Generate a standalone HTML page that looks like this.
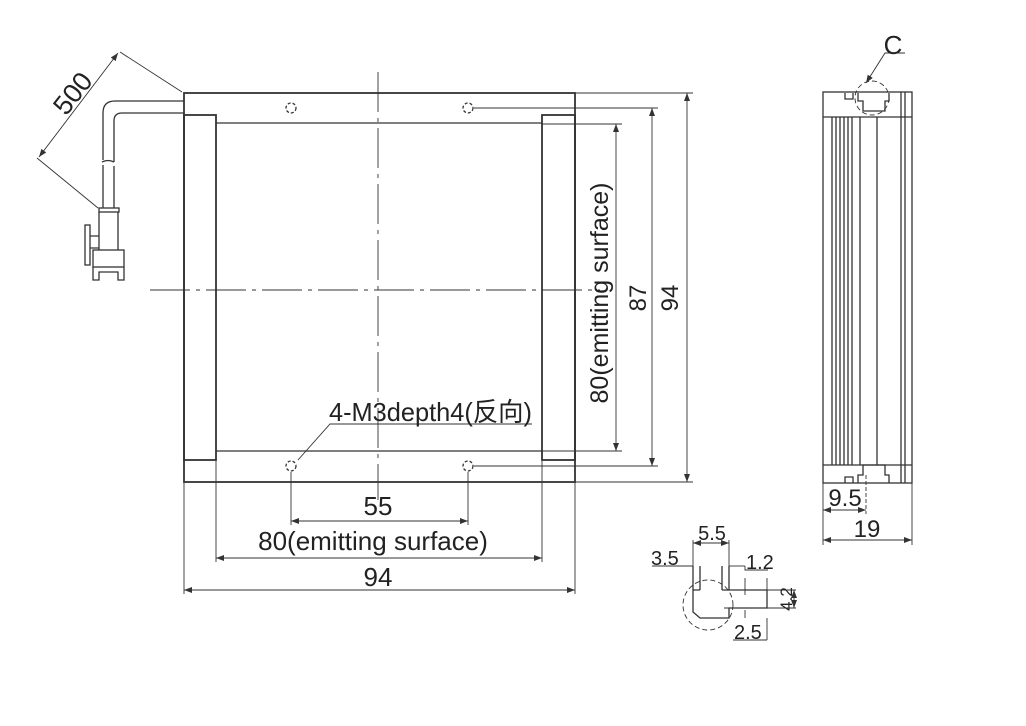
<!DOCTYPE html>
<html><head><meta charset="utf-8"><style>body{margin:0;background:#fff}svg{display:block}</style></head>
<body>
<svg width="1026" height="726" viewBox="0 0 1026 726" xmlns="http://www.w3.org/2000/svg" font-family="Liberation Sans, Noto Sans CJK SC, sans-serif" fill="none" stroke="#333">
<defs><marker id="a" markerWidth="8" markerHeight="6" refX="8" refY="3" orient="auto-start-reverse" markerUnits="userSpaceOnUse"><path d="M0,0 L8,3 L0,6z" fill="#333" stroke="none"/></marker></defs>
<g stroke-width="1.8">
<rect x="184" y="93" width="391" height="389"/>
<rect x="184" y="115" width="32" height="345"/>
<rect x="542" y="115" width="33" height="345"/>
</g>
<g stroke-width="1.3">
<line x1="216" y1="123" x2="542" y2="123"/>
<line x1="216" y1="451" x2="542" y2="451"/>
</g>
<g stroke-width="0.9">
<line x1="378" y1="72" x2="378" y2="500" stroke-dasharray="40,6,4,6"/>
<line x1="150" y1="290" x2="600" y2="290" stroke-dasharray="40,6,4,6"/>
<g stroke-dasharray="3,2" stroke-width="1.3"><circle cx="291" cy="108" r="5"/><circle cx="468" cy="108" r="5"/><circle cx="291" cy="466" r="5"/><circle cx="468" cy="466" r="5"/></g>
<line x1="291" y1="472" x2="291" y2="525"/><line x1="468" y1="472" x2="468" y2="525"/>
<line x1="291" y1="521" x2="468" y2="521" marker-start="url(#a)" marker-end="url(#a)"/>
<line x1="216" y1="460" x2="216" y2="562"/><line x1="542" y1="460" x2="542" y2="562"/>
<line x1="216" y1="558" x2="542" y2="558" marker-start="url(#a)" marker-end="url(#a)"/>
<line x1="184" y1="482" x2="184" y2="594"/><line x1="575" y1="482" x2="575" y2="594"/>
<line x1="184" y1="590" x2="575" y2="590" marker-start="url(#a)" marker-end="url(#a)"/>
<line x1="542" y1="124" x2="622" y2="124"/><line x1="542" y1="451" x2="622" y2="451"/>
<line x1="616" y1="124" x2="616" y2="451" marker-start="url(#a)" marker-end="url(#a)"/>
<line x1="474" y1="108" x2="658" y2="108"/><line x1="474" y1="466" x2="658" y2="466"/>
<line x1="652" y1="108" x2="652" y2="466" marker-start="url(#a)" marker-end="url(#a)"/>
<line x1="575" y1="93" x2="693" y2="93"/><line x1="575" y1="482" x2="693" y2="482"/>
<line x1="687" y1="93" x2="687" y2="482" marker-start="url(#a)" marker-end="url(#a)"/>
<polyline points="532,424 330,424 298,460"/>
<line x1="182" y1="92" x2="120" y2="52"/><line x1="37" y1="158" x2="98" y2="208"/>
<line x1="118" y1="53" x2="39" y2="157" marker-start="url(#a)" marker-end="url(#a)"/>
</g>
<g stroke-width="1.3">
<path d="M184,101 L115,101 Q103,101 103,113 L103,160 M184,113 L122,113 Q114,113 114,121 L114,162"/>
<path d="M103,165 L103,208 M114,166 L114,208 M102,162 q6,-3 12,0"/>
<rect x="99" y="208" width="20" height="4"/><path d="M99,212 L99,250 M118,212 L118,250"/>
<rect x="93" y="250" width="31" height="17"/>
<path d="M93,267 L93,280 L99,280 L99,272 L118,272 L118,280 L124,280 L124,267"/>
<rect x="85" y="225" width="5" height="40"/><path d="M90,236 L99,236 M90,248 L99,248"/>
<rect x="823" y="92" width="89" height="391"/>
<path d="M823,117 L912,117 M823,465 L912,465"/>
<path d="M832,117V465 M836,117V465 M840,117V465 M844,117V465 M848,117V465 M852,117V465 M860,117V465 M877,117V465 M901,92V483 M905,92V483"/>
<path d="M845,93 v6 h8 v-6 M858,93 v8 h5 v10 h22 v-10 h4 v-8"/>
<path d="M845,483 v-6 h8 v6 M858,483 v-8 h5 v-10 h22 v10 h4 v8"/>
</g>
<g stroke-width="0.9">
<circle cx="872" cy="98" r="17" stroke-dasharray="5,3"/>
<polyline points="905,53 885,53 866,83" marker-end="url(#a)"/>
<line x1="823" y1="483" x2="823" y2="545"/><line x1="866" y1="475" x2="866" y2="514" stroke-dasharray="4,2"/><line x1="912" y1="483" x2="912" y2="545"/>
<line x1="823" y1="510" x2="866" y2="510" marker-start="url(#a)" marker-end="url(#a)"/>
<line x1="823" y1="540" x2="912" y2="540" marker-start="url(#a)" marker-end="url(#a)"/>
<circle cx="708" cy="605" r="25" stroke-dasharray="5,3"/>
<line x1="693" y1="540" x2="693" y2="570"/><line x1="729" y1="540" x2="729" y2="570"/>
<line x1="693" y1="543" x2="729" y2="543" marker-start="url(#a)" marker-end="url(#a)"/>
<line x1="652" y1="566" x2="693" y2="566"/><line x1="729" y1="566" x2="745" y2="566"/>
<polyline points="745,566 745,570 768,570"/>
<line x1="745" y1="578" x2="745" y2="595"/>
<line x1="767" y1="578" x2="767" y2="590"/>
<line x1="724" y1="590" x2="796" y2="590"/><line x1="724" y1="608" x2="796" y2="608"/>
<line x1="794" y1="590" x2="794" y2="608" marker-start="url(#a)" marker-end="url(#a)"/>
<line x1="745" y1="610" x2="745" y2="618"/><line x1="767" y1="618" x2="767" y2="640"/>
<line x1="733" y1="640" x2="767" y2="640"/>
</g>
<g stroke-width="1.3">
<path d="M693,566 V612 L700,618 H729 V608 H767 V590 H729 V566 M700,566 V590 M722,566 V590"/>
<path d="M693,590 h7 M722,590 h7"/>
</g>
<g fill="#222" stroke="none" font-size="26">
<text x="378" y="515" text-anchor="middle">55</text>
<text x="373" y="550" text-anchor="middle">80(emitting surface)</text>
<text x="378" y="586" text-anchor="middle">94</text>
<text x="329" y="421" textLength="203" lengthAdjust="spacingAndGlyphs">4-M3depth4(反向)</text>
<text transform="translate(608,293) rotate(-90)" text-anchor="middle" font-size="25">80(emitting surface)</text>
<text transform="translate(646,298) rotate(-90)" text-anchor="middle" font-size="24">87</text>
<text transform="translate(678,298) rotate(-90)" text-anchor="middle" font-size="24">94</text>
<text transform="translate(80,99) rotate(-52)" text-anchor="middle" font-size="27">500</text>
<text x="893" y="54" text-anchor="middle" font-size="26">C</text>
<text x="845" y="506" text-anchor="middle" font-size="24">9.5</text>
<text x="867" y="537" text-anchor="middle" font-size="24">19</text>
<text x="712" y="540" text-anchor="middle" font-size="20">5.5</text>
<text x="651" y="565" font-size="20">3.5</text>
<text x="746" y="569" font-size="20">1.2</text>
<text transform="translate(792,599) rotate(-90)" text-anchor="middle" font-size="17">4.2</text>
<text x="734" y="639" font-size="20">2.5</text>
</g>
</svg>
</body></html>
